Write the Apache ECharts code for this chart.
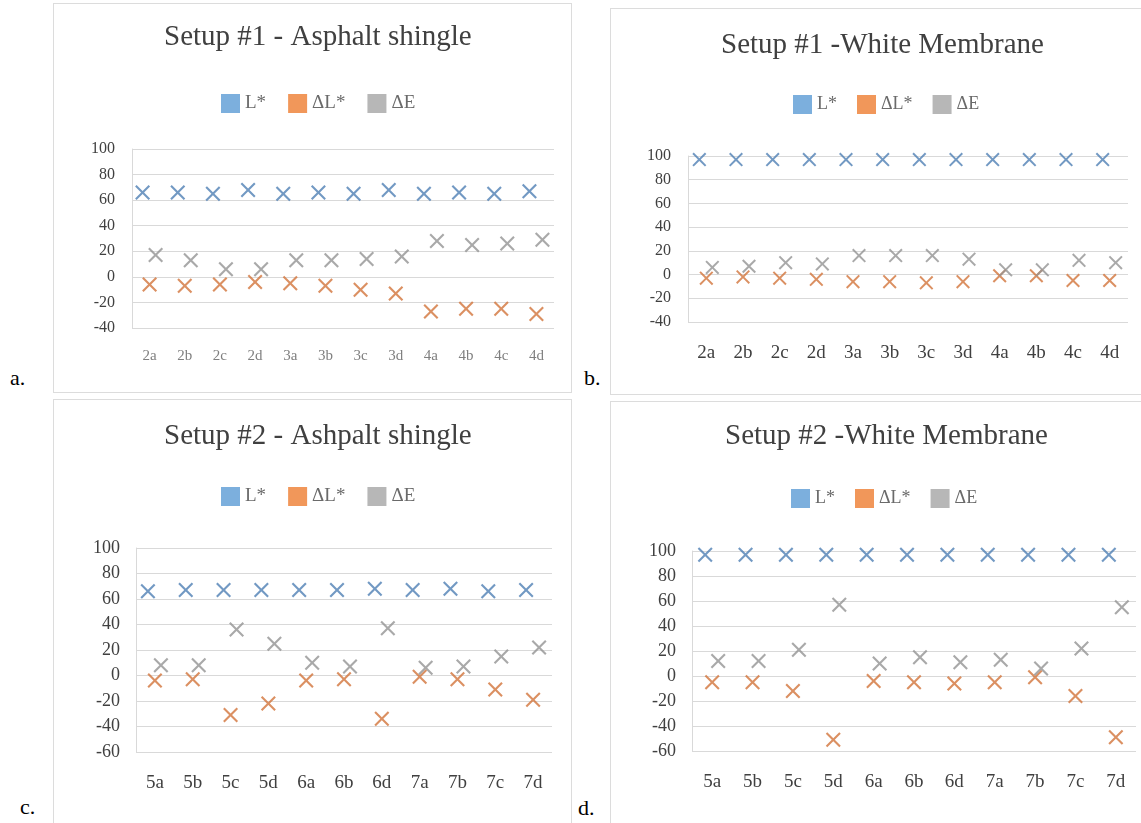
<!DOCTYPE html>
<html>
<head>
<meta charset="utf-8">
<script src="https://cdn.jsdelivr.net/npm/echarts@6/dist/echarts.min.js"></script>
<style>
  html, body { margin: 0; padding: 0; background: #ffffff; }
  body { width: 1141px; height: 823px; position: relative; overflow: hidden; font-family: "Liberation Serif", "DejaVu Serif", serif; }
  .panel { position: absolute; border: 1px solid #dcdcdc; box-sizing: border-box; background: #fff; }
  .lbl { position: absolute; font-family: "Liberation Serif", serif; font-size: 22px; color: #000; line-height: 1; }
</style>
</head>
<body>
<div id="pa" class="panel" style="left:53px;top:3px;width:519px;height:390px;"></div>
<div id="pb" class="panel" style="left:610px;top:8px;width:540px;height:387px;"></div>
<div id="pc" class="panel" style="left:53px;top:399px;width:519px;height:430px;"></div>
<div id="pd" class="panel" style="left:610px;top:401px;width:540px;height:430px;"></div>
<div class="lbl" style="left:10px;top:367px;">a.</div>
<div class="lbl" style="left:584px;top:367px;">b.</div>
<div class="lbl" style="left:20px;top:796px;">c.</div>
<div class="lbl" style="left:578px;top:797px;">d.</div>
<script>
// ---------- data ----------
const seriesNames = ['L*', 'ΔL*', 'ΔE'];

const catsSetup1 = ['2a', '2b', '2c', '2d', '3a', '3b', '3c', '3d', '4a', '4b', '4c', '4d'];
const catsSetup2 = ['5a', '5b', '5c', '5d', '6a', '6b', '6d', '7a', '7b', '7c', '7d'];

// a. Setup #1 - Asphalt shingle
const aTitle = 'Setup #1 - Asphalt shingle';
const aL  = [66, 66, 65, 68, 65, 66, 65, 68, 65, 66, 65, 67];
const aDL = [-6, -7, -6, -4, -5, -7, -10, -13, -27, -25, -25, -29];
const aDE = [17, 13, 6, 6, 13, 13, 14, 16, 28, 25, 26, 29];

// b. Setup #1 - White Membrane
const bTitle = 'Setup #1 -White Membrane';
const bL  = [97, 97, 97, 97, 97, 97, 97, 97, 97, 97, 97, 97];
const bDL = [-3, -2, -3, -4, -6, -6, -7, -6, -1, -1, -5, -5];
const bDE = [6, 7, 10, 9, 16, 16, 16, 13, 4, 4, 12, 10];

// c. Setup #2 - Ashpalt shingle
const cTitle = 'Setup #2 - Ashpalt shingle';
const cL  = [66, 67, 67, 67, 67, 67, 68, 67, 68, 66, 67];
const cDL = [-4, -3, -31, -22, -4, -3, -34, -1, -3, -11, -19];
const cDE = [8, 8, 36, 25, 10, 7, 37, 6, 7, 15, 22];

// d. Setup #2 - White Membrane
const dTitle = 'Setup #2 -White Membrane';
const dL  = [97, 97, 97, 97, 97, 97, 97, 97, 97, 97, 97];
const dDL = [-5, -5, -12, -51, -4, -5, -6, -5, -1, -16, -49];
const dDE = [12, 12, 21, 57, 10, 15, 11, 13, 6, 22, 55];

// axis ranges
const yRange1 = { min: -40, max: 100, interval: 20 };
const yRange2 = { min: -60, max: 100, interval: 20 };

// ---------- styling ----------
const legendColors = ['#5B9BD5', '#ED7D31', '#A5A5A5'];
const markerColors = ['#4f80b4', '#d2743b', '#939393'];
const markerOffsets = [-7, 0, 6];
const X_PATH = 'path://M0,1 L1,0 L5,4 L9,0 L10,1 L6,5 L10,9 L9,10 L5,6 L1,10 L0,9 L4,5 Z';
const SERIF = '"Liberation Serif", "DejaVu Serif", serif';

function makeOption(p) {
  const vals = [p.L, p.DL, p.DE];
  return {
    animation: false,
    backgroundColor: '#ffffff',
    title: {
      text: p.title, left: p.titleLeft, top: p.titleTop,
      textStyle: { fontFamily: SERIF, fontSize: 29, fontWeight: 'normal', color: '#404040' }
    },
    legend: {
      top: p.legendTop, left: p.legendLeft, icon: 'rect', itemWidth: 19, itemHeight: 19,
      itemGap: p.legendGap,
      textStyle: { fontFamily: SERIF, fontSize: p.legendFont, color: '#6a6a6a' },
      data: seriesNames.map((n, i) => ({ name: n, itemStyle: { color: legendColors[i] } }))
    },
    grid: { left: p.grid[0], right: p.grid[1], top: p.grid[2], bottom: p.grid[3] },
    xAxis: {
      type: 'category', data: p.cats, boundaryGap: true,
      axisLine: { show: false }, axisTick: { show: false },
      axisLabel: { margin: p.xMargin, fontFamily: SERIF, fontSize: p.xFont, color: p.xColor, interval: 0 },
      splitLine: { show: false }
    },
    yAxis: {
      type: 'value', min: p.y.min, max: p.y.max, interval: p.y.interval,
      axisLine: { show: true, lineStyle: { color: '#d9d9d9' } }, axisTick: { show: false },
      axisLabel: { margin: p.yMargin, fontFamily: SERIF, fontSize: p.yFont, color: '#404040' },
      splitLine: { show: true, lineStyle: { color: '#d9d9d9', width: 1 } }
    },
    series: seriesNames.map((n, i) => ({
      name: n, type: 'scatter', data: vals[i],
      symbol: X_PATH, symbolSize: p.sym, symbolOffset: [markerOffsets[i], 0],
      itemStyle: { color: markerColors[i] }
    }))
  };
}

const panels = [
  { id: 'pa', title: aTitle, cats: catsSetup1, L: aL, DL: aDL, DE: aDE, y: yRange1,
    titleLeft: 105, titleTop: 14, legendLeft: 162, legendTop: 85, legendFont: 19, legendGap: 22,
    grid: [78, 17, 145, 64], xMargin: 21, xFont: 15, xColor: '#7f7f7f', yFont: 16, yMargin: 17, sym: 15 },
  { id: 'pb', title: bTitle, cats: catsSetup1, L: bL, DL: bDL, DE: bDE, y: yRange1,
    titleLeft: 105, titleTop: 17, legendLeft: 177, legendTop: 81, legendFont: 18, legendGap: 20,
    grid: [77, 21, 147, 72], xMargin: 22, xFont: 19, xColor: '#404040', yFont: 16, yMargin: 17, sym: 14 },
  { id: 'pc', title: cTitle, cats: catsSetup2, L: cL, DL: cDL, DE: cDE, y: yRange2,
    titleLeft: 105, titleTop: 17, legendLeft: 162, legendTop: 82, legendFont: 19, legendGap: 22,
    grid: [82, 19, 148, 76], xMargin: 22, xFont: 19, xColor: '#404040', yFont: 18, yMargin: 16, sym: 15 },
  { id: 'pd', title: dTitle, cats: catsSetup2, L: dL, DL: dDL, DE: dDE, y: yRange2,
    titleLeft: 109, titleTop: 15, legendLeft: 175, legendTop: 82, legendFont: 18, legendGap: 20,
    grid: [81, 13, 149, 79], xMargin: 22, xFont: 19, xColor: '#404040', yFont: 18, yMargin: 16, sym: 15 }
];

panels.forEach(p => {
  const chart = echarts.init(document.getElementById(p.id), null, { renderer: 'canvas' });
  chart.setOption(makeOption(p));
});
</script>
</body>
</html>
